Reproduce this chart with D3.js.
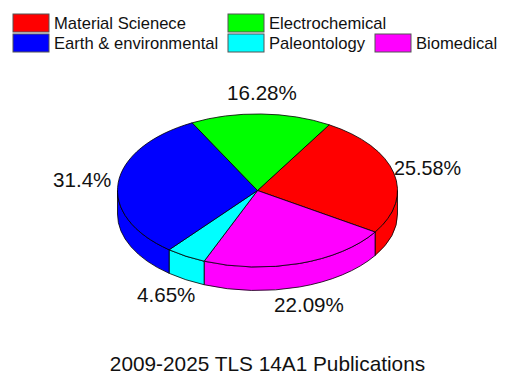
<!DOCTYPE html>
<html>
<head>
    <meta charset="utf-8" />
    <title>TLS 14A1 Publications</title>
    <style>
        html, body { margin: 0; padding: 0; background: #fff; }
        svg { display: block; }
        text { font-family: "Liberation Sans", Arial, sans-serif; fill: #111; }
    </style>
</head>
<body>
    <script src="https://cdn.jsdelivr.net/npm/d3@7"></script>
    <script>
        // clockwise from the red slice
        const categories = ['Material Scienece', 'Biomedical', 'Paleontology', 'Earth & environmental', 'Electrochemical']
        const shares = [25.58, 22.09, 4.65, 31.4, 16.28]
        const shareLabels = ['25.58%', '22.09%', '4.65%', '31.4%', '16.28%']
        const sliceColors = ['#ff0000', '#ff00ff', '#00ffff', '#0000ff', '#00ff00']
        const titleText = '2009-2025 TLS 14A1 Publications'

        const width = 509, height = 392
        const cx = 257.5, cy = 190.5, rx = 140, ry = 76.5, depth = 23.5
        const startAngle = 30.8 * Math.PI / 180

        // legend slots, same order as categories
        const legendSlots = [
            { x: 13, y: 14 }, { x: 375, y: 34 }, { x: 228, y: 34 }, { x: 13, y: 34 }, { x: 228, y: 14 }
        ]
        // label anchors, same order as categories
        const labelSlots = [
            { x: 394, y: 175, size: 19.8 }, { x: 274, y: 312, size: 20.6 }, { x: 137, y: 302, size: 20.6 },
            { x: 53, y: 187, size: 20.6 }, { x: 227, y: 100, size: 20.6 }
        ]

        const svg = d3.select('body').append('svg')
            .attr('width', width)
            .attr('height', height)

        const pie = d3.pie()
            .sort(null)
            .startAngle(startAngle)
            .endAngle(startAngle + 2 * Math.PI)

        const arcs = pie(shares)
        const unitArc = d3.arc().innerRadius(0).outerRadius(1)

        const px = a => cx + rx * Math.sin(a)
        const py = a => cy - ry * Math.cos(a)

        // side wall only shows on the front half of the ellipse
        function wallPath(d) {
            let a0 = d.startAngle, a1 = d.endAngle
            const lo = Math.PI / 2, hi = 3 * Math.PI / 2
            if (a1 <= lo || a0 >= hi) return null
            a0 = Math.max(a0, lo)
            a1 = Math.min(a1, hi)
            return `M${px(a0)},${py(a0)}A${rx},${ry} 0 0 1 ${px(a1)},${py(a1)}` +
                `L${px(a1)},${py(a1) + depth}A${rx},${ry} 0 0 0 ${px(a0)},${py(a0) + depth}Z`
        }

        svg.append('g').selectAll('path')
            .data(arcs.filter(d => wallPath(d)))
            .enter()
                .append('path')
                .attr('d', wallPath)
                .attr('fill', d => sliceColors[d.index])
                .attr('stroke', '#000')
                .attr('stroke-width', 0.8)

        svg.append('g')
            .attr('transform', `translate(${cx}, ${cy}) scale(${rx}, ${ry})`)
            .selectAll('path')
            .data(arcs)
            .enter()
                .append('path')
                .attr('d', unitArc)
                .attr('fill', d => sliceColors[d.index])
                .attr('stroke', '#000')
                .attr('stroke-width', 0.8)
                .attr('vector-effect', 'non-scaling-stroke')

        svg.append('g').selectAll('text')
            .data(shareLabels)
            .enter()
                .append('text')
                .attr('x', (d, i) => labelSlots[i].x)
                .attr('y', (d, i) => labelSlots[i].y)
                .attr('font-size', (d, i) => labelSlots[i].size)
                .text(d => d)

        const legend = svg.append('g').selectAll('g')
            .data(categories)
            .enter()
                .append('g')
                .attr('transform', (d, i) => `translate(${legendSlots[i].x}, ${legendSlots[i].y})`)

        legend.append('rect')
            .attr('width', 36)
            .attr('height', 18)
            .attr('fill', (d, i) => sliceColors[i])
            .attr('stroke', '#555')
            .attr('stroke-width', 1)

        legend.append('text')
            .attr('x', 41)
            .attr('y', 15)
            .attr('font-size', 16.6)
            .text(d => d)

        svg.append('text')
            .attr('x', 267.5)
            .attr('y', 371)
            .attr('text-anchor', 'middle')
            .attr('font-size', 20.8)
            .text(titleText)
    </script>
</body>
</html>
